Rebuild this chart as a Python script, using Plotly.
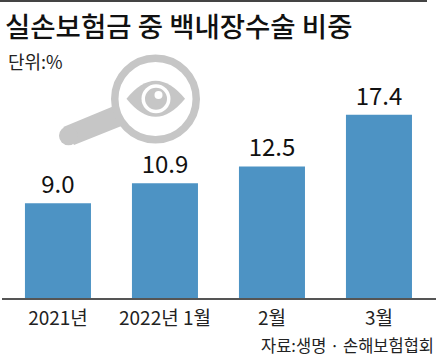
import plotly.graph_objects as go

categories = ["2021년", "2022년 1월", "2월", "3월"]
values = [9.0, 10.9, 12.5, 17.4]
value_labels = ["9.0", "10.9", "12.5", "17.4"]
title_text = "실손보험금 중 백내장수술 비중"
unit_text = "단위:%"
source_text = "자료:생명 · 손해보험협회"

W, H = 437, 356
L, R, T, B = 2, 1, 0, 58
pw, ph = W - L - R, H - T - B
def X(x): return (x - L) / pw
def Y(y): return (H - B - y) / ph

KR = "Noto Sans CJK KR, sans-serif"
GRAY = "#c6c6c6"

def circle(cx, cy, r, **kw):
    return dict(type="circle", xref="paper", yref="paper",
                x0=X(cx - r), x1=X(cx + r), y0=Y(cy + r), y1=Y(cy - r), **kw)

def poly(pts, fill):
    d = "M " + " L ".join(f"{X(a)} {Y(b)}" for a, b in pts) + " Z"
    return dict(type="path", xref="paper", yref="paper", path=d, fillcolor=fill, line=dict(width=0))

CX, CY = 155.5, 99
shapes = [
    dict(type="line", xref="paper", yref="paper", x0=X(0), x1=X(427), y0=Y(1), y1=Y(1),
         line=dict(color="#444444", width=2)),
    poly([(63.3, 127), (114, 106), (124, 125), (74, 145)], GRAY),
    circle(68.5, 135.8, 9.5, line=dict(width=0), fillcolor=GRAY),
    circle(CX, CY, 40.75, line=dict(color=GRAY, width=7.5), fillcolor="white"),
]
ex0, ex1, ey, eh = 126.5, 185, 98.7, 18
shapes.append(dict(type="path", xref="paper", yref="paper",
    path=f"M {X(ex0)} {Y(ey)} Q {X(CX)} {Y(ey-2*eh)} {X(ex1)} {Y(ey)} Q {X(CX)} {Y(ey+2*eh)} {X(ex0)} {Y(ey)} Z",
    fillcolor=GRAY, line=dict(width=0)))
shapes += [
    circle(CX + 0.5, ey, 14.5, line=dict(width=0), fillcolor="white"),
    circle(CX + 0.5, ey, 11, line=dict(width=0), fillcolor=GRAY),
    circle(158.5, 95, 4, line=dict(width=0), fillcolor="white"),
]

fig = go.Figure(go.Bar(
    x=categories, y=values, marker=dict(color="#4d93c4", line=dict(width=0)),
    text=value_labels, textposition="outside", cliponaxis=False,
    textfont=dict(family=KR, size=24, color="#111111"),
))
fig.update_layout(
    width=W, height=H, margin=dict(l=L, r=R, t=T, b=B), autosize=False,
    paper_bgcolor="white", plot_bgcolor="white", bargap=0.383, showlegend=False,
    shapes=shapes,
    xaxis=dict(type="category", range=[-0.523, 3.533], showgrid=False, ticks="",
               showline=True, linecolor="#555555", linewidth=1.5, ticklabelstandoff=2,
               tickfont=dict(family=KR, size=19, color="#222222")),
    yaxis=dict(range=[0, ph / 10.53], visible=False),
    annotations=[
        dict(text=title_text, xref="paper", yref="paper", x=X(3), y=Y(25), xanchor="left", yanchor="middle",
             showarrow=False, font=dict(family=KR, size=27.5, color="#111111", weight=500)),
        dict(text=unit_text, xref="paper", yref="paper", x=X(6), y=Y(61), xanchor="left", yanchor="middle",
             showarrow=False, font=dict(family=KR, size=18, color="#222222")),
        dict(text=source_text, xref="paper", yref="paper", x=X(436), y=Y(345), xanchor="right", yanchor="middle",
             showarrow=False, font=dict(family=KR, size=16.5, color="#222222")),
    ],
)
fig.write_html("out.html", config=dict(displayModeBar=False),
               post_script="document.body.style.margin='0';document.documentElement.style.overflow='hidden';")
